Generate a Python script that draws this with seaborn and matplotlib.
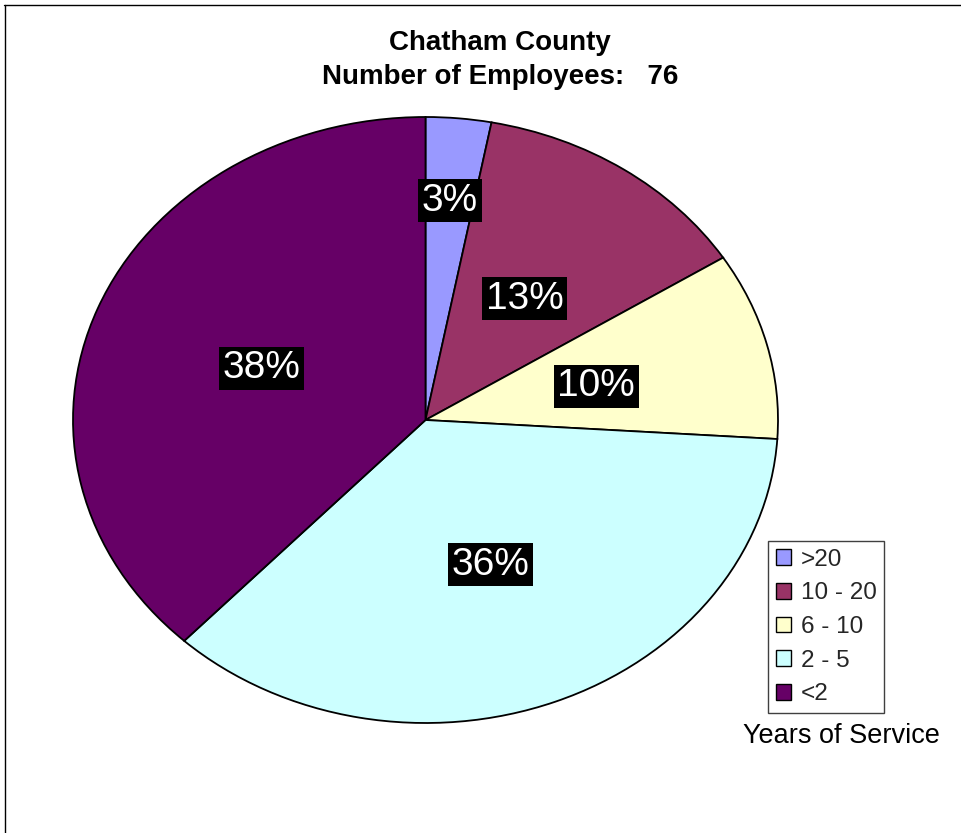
import numpy as np
import matplotlib
matplotlib.use("Agg")
import matplotlib.pyplot as plt
from matplotlib.patches import Patch
from matplotlib.lines import Line2D
import seaborn as sns

# Years-of-service breakdown (percent of employees)
categories = [">20", "10 - 20", "6 - 10", "2 - 5", "<2"]
percents = [3, 13, 10, 36, 38]
slice_colors = ["#9999FF", "#993366", "#FFFFCC", "#CCFFFF", "#660066"]
title_lines = ["Chatham County", "Number of Employees:   76"]
legend_title = "Years of Service"

sns.set_theme(style="white")
plt.rcParams["font.family"] = ["Liberation Sans", "DejaVu Sans"]

W, H = 961, 833
fig = plt.figure(figsize=(W / 100, H / 100), dpi=100)
fig.patch.set_facecolor("white")

# pie occupies an ellipse: x 73..778, y 117..723 (pixels from top-left)
left, right, top, bottom = 73, 778, 117, 723
ax = fig.add_axes([left / W, 1 - bottom / H, (right - left) / W, (bottom - top) / H])

palette = sns.color_palette(slice_colors)
wedges, texts, autotexts = ax.pie(
    percents,
    colors=palette,
    startangle=90,
    counterclock=False,
    autopct=lambda p: f"{p:.0f}%",
    pctdistance=0.5,
    wedgeprops=dict(edgecolor="black", linewidth=1.3),
    textprops=dict(color="white", fontsize=28),
)
ax.set_aspect("auto")
ax.set_xlim(-1, 1)
ax.set_ylim(-1, 1)
ax.axis("off")

for w, t in zip(wedges, autotexts):
    t.set_bbox(dict(facecolor="black", edgecolor="none", pad=2.5))
    t.set_ha("center")
    t.set_va("center_baseline")

# the narrow top slice carries its label further out
w0 = wedges[0]
mid = np.deg2rad((w0.theta1 + w0.theta2) / 2)
autotexts[0].set_position((0.74 * np.cos(mid), 0.74 * np.sin(mid)))

# title
fig.text(500 / W, 1 - 43 / H, title_lines[0], ha="center", va="center",
         fontsize=20, fontweight="bold", color="black")
fig.text(500 / W, 1 - 77 / H, title_lines[1], ha="center", va="center",
         fontsize=20, fontweight="bold", color="black")

# legend
handles = [Patch(facecolor=c, edgecolor="black", linewidth=1.0) for c in palette]
leg = fig.legend(
    handles, categories,
    loc="upper left",
    bbox_to_anchor=(768 / W, 1 - 541 / H),
    bbox_transform=fig.transFigure,
    borderaxespad=0,
    frameon=True,
    fancybox=False,
    edgecolor="#404040",
    framealpha=1,
    fontsize=17.5,
    handlelength=0.62,
    handleheight=0.62,
    handletextpad=0.4,
    labelspacing=0.48,
    borderpad=0.32,
)
leg.get_frame().set_linewidth(1.0)

fig.text(841 / W, 1 - 736 / H, legend_title, ha="center", va="center",
         fontsize=19.5, color="black")

# chart-area border (left and top edges)
fig.add_artist(Line2D([4.5 / W, 4.5 / W], [0, 1 - 5 / H], transform=fig.transFigure,
                      color="black", linewidth=1.0))
fig.add_artist(Line2D([4 / W, 1], [1 - 5 / H, 1 - 5 / H], transform=fig.transFigure,
                      color="black", linewidth=1.0))

fig.savefig("out.png", dpi=100, facecolor="white")
